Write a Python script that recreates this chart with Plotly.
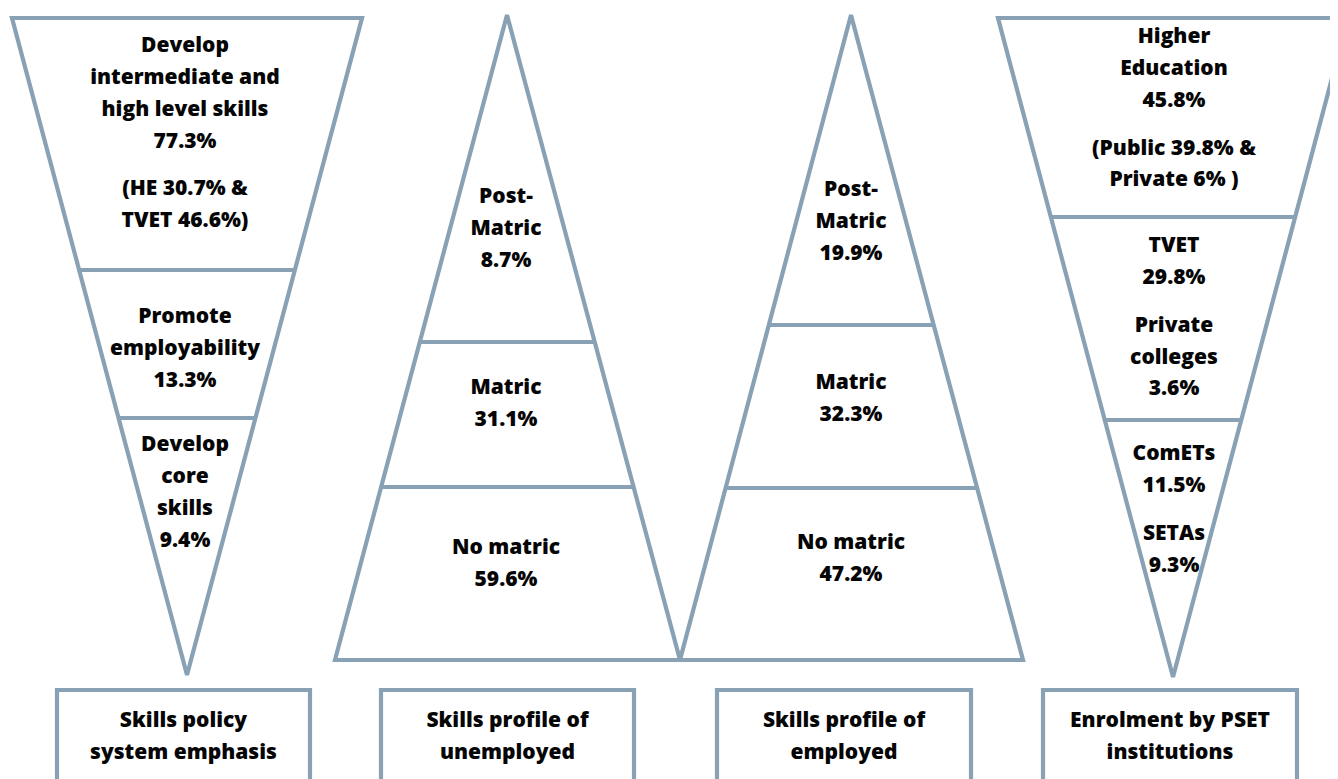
import plotly.graph_objects as go

# ---------------- data ----------------
panel_titles = ["Skills policy<br>system emphasis",
                "Skills profile of<br>unemployed",
                "Skills profile of<br>employed",
                "Enrolment by PSET<br>institutions"]

policy_labels = ["Develop<br>intermediate and<br>high level skills",
                 "Promote<br>employability",
                 "Develop<br>core<br>skills"]
policy_values = [77.3, 13.3, 9.4]
policy_split_labels = ["HE", "TVET"]
policy_split_values = [30.7, 46.6]

unemployed_labels = ["Post-<br>Matric", "Matric", "No matric"]
unemployed_values = [8.7, 31.1, 59.6]

employed_labels = ["Post-<br>Matric", "Matric", "No matric"]
employed_values = [19.9, 32.3, 47.2]

enrol_labels = ["Higher<br>Education", "TVET", "Private<br>colleges", "ComETs", "SETAs"]
enrol_values = [45.8, 29.8, 3.6, 11.5, 9.3]
he_split_labels = ["Public", "Private"]
he_split_values = [39.8, 6]

# ---------------- style / layout ----------------
W, H = 1338, 779
PAGE_MARGIN = 8  # default browser body margin
LINE = "#88a1b4"
LW = 4.2
FONT = dict(family="Open Sans, Noto Sans, Arial, sans-serif", size=21, color="#050505", weight=800)
TITLE_FONT = dict(family="Open Sans, Noto Sans, Arial, sans-serif", size=21, color="#050505", weight=800)
STEP = 31.8
GAP = 16
TEXT_DY = 2


def pct(v):
    return f"{v:g}%"


def lines_of(label, value):
    return label.split("<br>") + [pct(value)]


fig = go.Figure()


def outline(xs, ys):
    fig.add_trace(go.Scatter(x=xs, y=ys, mode="lines",
                             line=dict(color=LINE, width=LW),
                             hoverinfo="skip", showlegend=False, cliponaxis=True))


def edge_x(p_top, p_bot, y):
    (x0, y0), (x1, y1) = p_top, p_bot
    return x0 + (x1 - x0) * (y - y0) / (y1 - y0)


def triangle(a, b, c, divider_ys, left_edge, right_edge):
    outline([a[0], b[0], c[0], a[0], b[0]], [a[1], b[1], c[1], a[1], b[1]])
    for dy in divider_ys:
        xl = edge_x(*left_edge, dy)
        xr = edge_x(*right_edge, dy)
        outline([xl, xr], [dy, dy])


def text_block(x, y0, paragraphs, font=FONT):
    xs, ys, ts = [], [], []
    y = y0 + TEXT_DY
    for pi, para in enumerate(paragraphs):
        if pi > 0:
            y += GAP
        for ln in para:
            xs.append(x)
            ys.append(y)
            ts.append(ln)
            y += STEP
    fig.add_trace(go.Scatter(x=xs, y=ys, mode="text", text=ts,
                             textposition="middle center", textfont=font,
                             hoverinfo="skip", showlegend=False, cliponaxis=False))


# Panel 1: inverted triangle (skills policy)
p1 = dict(tl=(12, 18), tr=(362, 18), apex=(187, 675))
triangle(p1["tl"], p1["tr"], p1["apex"], [270, 418],
         (p1["tl"], p1["apex"]), (p1["tr"], p1["apex"]))
cx1 = 185
text_block(cx1, 45, [lines_of(policy_labels[0], policy_values[0]),
                     [f"({policy_split_labels[0]} {pct(policy_split_values[0])} &",
                      f"{policy_split_labels[1]} {pct(policy_split_values[1])})"]])
text_block(cx1, 316, [lines_of(policy_labels[1], policy_values[1])])
text_block(cx1, 444, [lines_of(policy_labels[2], policy_values[2])])

# Panel 2: upright triangle (unemployed)
p2 = dict(apex=(507, 15), bl=(335, 660), br=(680, 660))
triangle(p2["apex"], p2["br"], p2["bl"], [342, 487],
         (p2["apex"], p2["bl"]), (p2["apex"], p2["br"]))
cx2 = 506
text_block(cx2, 196, [lines_of(unemployed_labels[0], unemployed_values[0])])
text_block(cx2, 387, [lines_of(unemployed_labels[1], unemployed_values[1])])
text_block(cx2, 547, [lines_of(unemployed_labels[2], unemployed_values[2])])

# Panel 3: upright triangle (employed)
p3 = dict(apex=(851, 15), bl=(680, 660), br=(1023, 660))
triangle(p3["apex"], p3["br"], p3["bl"], [325, 488],
         (p3["apex"], p3["bl"]), (p3["apex"], p3["br"]))
cx3 = 851
text_block(cx3, 189, [lines_of(employed_labels[0], employed_values[0])])
text_block(cx3, 382, [lines_of(employed_labels[1], employed_values[1])])
text_block(cx3, 542, [lines_of(employed_labels[2], employed_values[2])])

# Panel 4: inverted triangle (enrolment)
p4 = dict(tl=(998, 18), tr=(1348, 18), apex=(1173, 677))
triangle(p4["tl"], p4["tr"], p4["apex"], [217, 420],
         (p4["tl"], p4["apex"]), (p4["tr"], p4["apex"]))
cx4 = 1174
text_block(cx4, 36, [lines_of(enrol_labels[0], enrol_values[0]),
                     [f"({he_split_labels[0]} {pct(he_split_values[0])} &",
                      f"{he_split_labels[1]} {pct(he_split_values[1])} )"]])
text_block(cx4, 245, [lines_of(enrol_labels[1], enrol_values[1]),
                      lines_of(enrol_labels[2], enrol_values[2])])
text_block(cx4, 453, [lines_of(enrol_labels[3], enrol_values[3]),
                      lines_of(enrol_labels[4], enrol_values[4])])

# Title boxes (open at the bottom edge of the canvas)
boxes = [(57, 310), (381, 634), (717, 971), (1043, 1297)]
for (x0, x1), title in zip(boxes, panel_titles):
    outline([x0, x0, x1, x1], [800, 690, 690, 800])
    text_block((x0 + x1) / 2, 720, [title.split("<br>")], font=TITLE_FONT)

fig.update_layout(
    width=W - PAGE_MARGIN, height=H - PAGE_MARGIN,
    margin=dict(l=0, r=0, t=0, b=0),
    paper_bgcolor="white", plot_bgcolor="white",
    xaxis=dict(range=[PAGE_MARGIN, W], visible=False, fixedrange=True),
    yaxis=dict(range=[H, PAGE_MARGIN], visible=False, fixedrange=True),
    showlegend=False,
)

fig.write_html("out.html")
